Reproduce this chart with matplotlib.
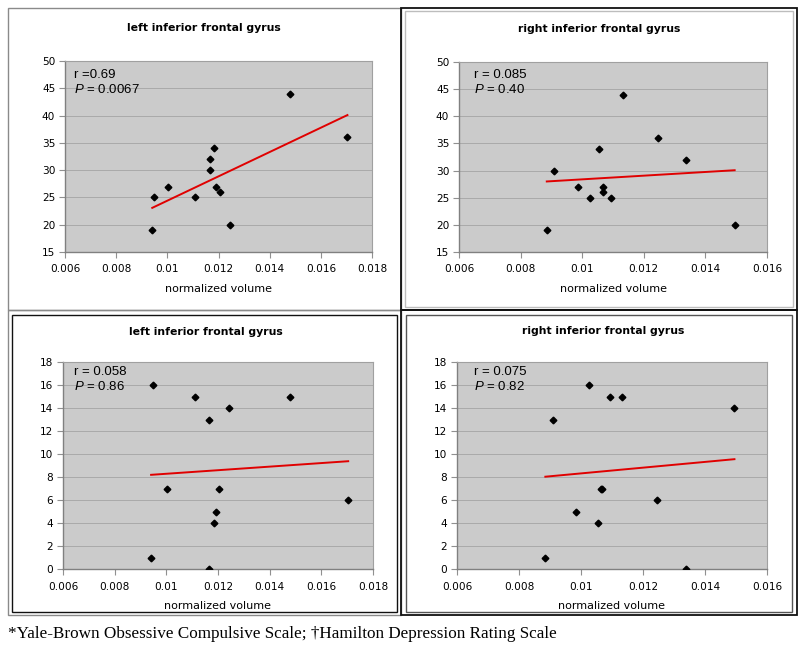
import numpy as np
import matplotlib
matplotlib.use('Agg')
import matplotlib.pyplot as plt
from matplotlib.patches import Rectangle
from matplotlib.ticker import FuncFormatter, MultipleLocator

# normalized volumes, left and right inferior frontal gyrus
left_volume = [0.00941, 0.00949, 0.01003, 0.0111, 0.01165, 0.01167,
               0.01183, 0.01191, 0.01204, 0.01244, 0.01479, 0.01704]
right_volume = [0.00885, 0.0091, 0.00985, 0.01026, 0.01054, 0.01066,
                0.01069, 0.01092, 0.01133, 0.01246, 0.01338, 0.01495]

# Y-BOCS scores (top row) and HAM-D scores (bottom row)
left_ybocs = [19, 25, 27, 25, 30, 32, 34, 27, 26, 20, 44, 36]
left_hamd = [1, 16, 7, 15, 13, 0, 4, 5, 7, 14, 15, 6]
right_ybocs = [19, 30, 27, 25, 34, 26, 27, 25, 44, 36, 32, 20]
right_hamd = [1, 13, 5, 16, 4, 7, 7, 15, 15, 6, 0, 14]

panel_titles = ['left inferior frontal gyrus', 'right inferior frontal gyrus',
                'left inferior frontal gyrus', 'right inferior frontal gyrus']
r_labels = ['r =0.69', 'r = 0.085', 'r = 0.058', 'r = 0.075']
p_labels = ['0.0067', '0.40', '0.86', '0.82']
x_label = 'normalized volume'
footnote = '*Yale-Brown Obsessive Compulsive Scale; \u2020Hamilton Depression Rating Scale'

plt.rcParams['mathtext.fontset'] = 'custom'
plt.rcParams['mathtext.it'] = 'Liberation Sans:italic'

W, H = 800, 651
fig = plt.figure(figsize=(W / 100, H / 100), dpi=100)


def px_box(x0, y0, x1, y1):
    # pixel box (top-left origin) -> figure fraction rect
    return [x0 / W, 1 - y1 / H, (x1 - x0) / W, (y1 - y0) / H]


def frame(x0, y0, x1, y1, color, lw=1.0):
    l, b, w, h = px_box(x0, y0, x1, y1)
    fig.add_artist(Rectangle((l, b), w, h, transform=fig.transFigure,
                             fill=False, edgecolor=color, linewidth=lw))


# panel frames
frame(8, 8, 401, 310, '#8a8a8a')
frame(401, 8, 797, 310, '#111111', 1.3)
frame(405, 11, 793, 307, '#bdbdbd')
frame(8, 310, 401, 615, '#8a8a8a')
frame(12, 315, 397, 612, '#111111')
frame(401, 310, 797, 615, '#111111', 1.3)
frame(406, 315, 792, 612, '#555555')

panels = [
    # data, axes pixel box, title centre, text anchor, x max, y range
    (left_volume, left_ybocs, (65, 61, 372, 252), (204, 28), (74, 75), 0.018, (15, 50, 5)),
    (right_volume, right_ybocs, (459, 62, 767, 252), (599, 29), (474, 75), 0.016, (15, 50, 5)),
    (left_volume, left_hamd, (63, 362, 373, 569), (206, 332), (74, 372), 0.018, (0, 18, 2)),
    (right_volume, right_hamd, (457, 362, 767, 569), (603, 331), (474, 372), 0.016, (0, 18, 2)),
]

tick_fmt = FuncFormatter(lambda v, pos: '%g' % round(v, 4))

for i, (xv, yv, box, tpos, rpos, xmax, yr) in enumerate(panels):
    ax = fig.add_axes(px_box(*box))
    ax.set_facecolor('#cbcbcb')
    x = np.array(xv)
    y = np.array(yv)
    ax.plot(x, y, 'D', color='black', markersize=3.4, zorder=3)

    # least-squares trend line over the data range
    slope, icpt = np.polyfit(x, y, 1)
    xs = np.array([x.min(), x.max()])
    ax.plot(xs, slope * xs + icpt, color='#e00000', linewidth=1.4, zorder=2)

    ax.set_xlim(0.006, xmax)
    ax.set_ylim(yr[0], yr[1])
    ax.xaxis.set_major_locator(MultipleLocator(0.002))
    ax.yaxis.set_major_locator(MultipleLocator(yr[2]))
    ax.xaxis.set_major_formatter(tick_fmt)
    ax.yaxis.grid(True, color='#a9a9a9', linewidth=0.7)
    ax.set_axisbelow(True)
    for s in ['top', 'right']:
        ax.spines[s].set_color('#a0a0a0')
        ax.spines[s].set_linewidth(0.8)
    for s in ['left', 'bottom']:
        ax.spines[s].set_color('#808080')
        ax.spines[s].set_linewidth(1.0)
    ax.tick_params(direction='out', length=4, width=0.8, color='#909090',
                   labelsize=7.6, pad=3)
    ax.tick_params(axis='x', pad=5)
    ax.set_xlabel(x_label, fontsize=8, labelpad=6.5)

    fig.text(tpos[0] / W, 1 - tpos[1] / H, panel_titles[i], ha='center', va='center',
             fontsize=7.8, fontweight='bold')
    fig.text(rpos[0] / W, 1 - rpos[1] / H, r_labels[i], ha='left', va='center',
             fontsize=9.5, family='Liberation Sans')
    fig.text(rpos[0] / W, 1 - (rpos[1] + 14.5) / H, '$\\mathit{P}$ = ' + p_labels[i],
             ha='left', va='center', fontsize=9.5, family='Liberation Sans')

fig.text(8 / W, 1 - 634 / H, footnote, ha='left', va='center', fontsize=12.3,
         family='Liberation Serif')

fig.savefig('out.png', dpi=100)
